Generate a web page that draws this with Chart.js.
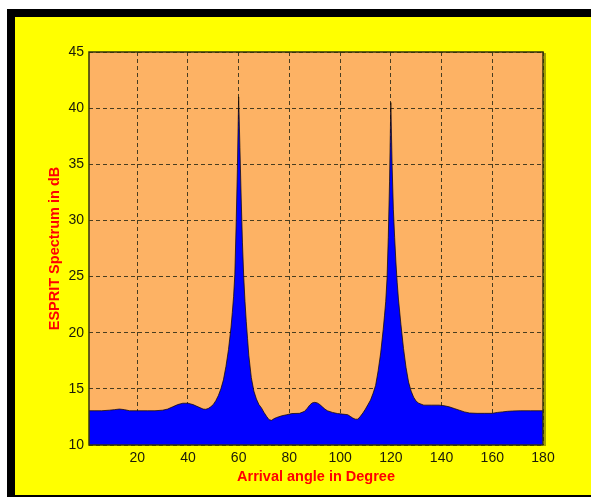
<!DOCTYPE html>
<html>
<head>
<meta charset="utf-8">
<script src="https://cdn.jsdelivr.net/npm/chart.js@4/dist/chart.umd.min.js"></script>
<style>
  html, body { margin: 0; background: #ffff00; overflow: hidden; }
  canvas { display: block; }
</style>
</head>
<body>
<canvas id="espritChart" width="591" height="497"></canvas>
<script>
// arrival angle (deg) and ESPRIT spectrum (dB)
const angles = [
    1, 3, 6, 9, 11, 13, 15, 17, 20, 24, 27, 30, 32, 34, 36, 38, 40, 42, 44, 46,
    47, 48, 49, 50, 51, 52, 53, 54, 55, 56, 57, 57.5, 58, 58.5, 59, 59.5, 60, 60.5, 61, 61.5,
    62, 62.5, 63, 63.5, 64, 65, 66, 67, 68, 69, 70, 71, 72, 73, 74, 75, 77, 79, 81, 84,
    86, 87, 88, 89, 90, 91, 92, 93, 94, 95, 97, 99, 101, 103, 104, 105, 106, 107, 108, 109,
    110, 111, 112, 113, 114, 115, 116, 117, 117.5, 118, 118.5, 119, 119.5, 120, 120.5, 121, 121.5, 122, 122.5, 123,
    124, 125, 126, 127, 128, 129, 130, 131, 133, 136, 139, 141, 143, 145, 147, 149, 151, 154, 157, 160,
    162, 164, 166, 168, 171, 175, 180
];
const spectrumDb = [
    13.05, 13.05, 13.05, 13.1, 13.15, 13.2, 13.15, 13.05, 13.05, 13.05, 13.05, 13.1, 13.2, 13.4, 13.6, 13.72, 13.72, 13.6, 13.4, 13.2,
    13.18, 13.25, 13.4, 13.6, 13.95, 14.4, 15.0, 15.8, 17.0, 18.5, 20.5, 21.8, 23.2, 25.2, 29.5, 34.5, 41.0, 36.5, 32.0, 28.0,
    25.0, 22.8, 21.0, 19.5, 18.0, 16.0, 14.8, 14.1, 13.6, 13.3, 12.9, 12.55, 12.25, 12.2, 12.35, 12.45, 12.6, 12.7, 12.8, 12.82,
    13.0, 13.25, 13.55, 13.75, 13.8, 13.75, 13.6, 13.4, 13.2, 13.05, 12.9, 12.8, 12.75, 12.7, 12.55, 12.4, 12.3, 12.3, 12.55, 12.85,
    13.2, 13.6, 14.0, 14.6, 15.3, 16.6, 18.2, 20.3, 21.5, 22.8, 24.8, 28.5, 33.5, 40.5, 35.0, 31.0, 28.5, 26.3, 24.5, 23.0,
    20.7, 18.6, 16.9, 15.6, 14.8, 14.25, 13.9, 13.72, 13.55, 13.55, 13.55, 13.5, 13.4, 13.25, 13.1, 12.95, 12.85, 12.82, 12.82, 12.82,
    12.9, 12.95, 13.0, 13.03, 13.05, 13.05, 13.05
];
const xTicks = [20, 40, 60, 80, 100, 120, 140, 160, 180];
const yTicks = [10, 15, 20, 25, 30, 35, 40, 45];

const tickFont = { family: "Arial, 'Liberation Sans', sans-serif", size: 14 };
const titleFont = { family: "Arial, 'Liberation Sans', sans-serif", size: 14.5, weight: 'bold' };

// yellow figure with black bands top, left and bottom; orange axes box
const framePlugin = {
    id: 'frame',
    beforeDraw(chart) {
        const ctx = chart.ctx;
        const a = chart.chartArea;
        const w = chart.width, h = chart.height;
        ctx.save();
        ctx.fillStyle = '#ffffff';
        ctx.fillRect(0, 0, w, h);
        ctx.fillStyle = '#ffff00';
        ctx.fillRect(7, 9, w - 7, h - 9);
        ctx.fillStyle = '#000000';
        ctx.fillRect(7, 9, w - 7, 8);   // top band
        ctx.fillRect(7, 9, 8, h - 9);   // left band
        ctx.fillRect(7, h - 2, w - 7, 2); // bottom line
        ctx.fillStyle = 'rgb(253, 178, 100)';
        ctx.fillRect(a.left, a.top, a.right - a.left, a.bottom - a.top);
        ctx.restore();
    },
    afterDraw(chart) {
        const ctx = chart.ctx;
        const a = chart.chartArea;
        ctx.save();
        // olive shadow on the right
        ctx.fillStyle = '#a3a300';
        ctx.fillRect(a.right + 1, a.top + 1, 2, a.bottom - a.top);
        ctx.strokeStyle = '#33330a';
        ctx.lineWidth = 1.5;
        ctx.strokeRect(a.left, a.top, a.right - a.left, a.bottom - a.top);
        // keep the right edge of the figure yellow
        ctx.fillStyle = '#ffff00';
        ctx.fillRect(chart.width - 12, 17, 12, chart.height - 19);
        ctx.restore();
    }
};

new Chart(document.getElementById('espritChart'), {
    type: 'line',
    data: {
        datasets: [{
            data: angles.map((a, i) => ({ x: a, y: spectrumDb[i] })),
            borderColor: 'rgba(20, 10, 0, 0.75)',
            borderWidth: 1,
            backgroundColor: '#0000ff',
            fill: 'start',
            pointRadius: 0,
            tension: 0
        }]
    },
    options: {
        responsive: false,
        animation: false,
        layout: { padding: { top: 52, right: 48, left: 0, bottom: 0 } },
        plugins: {
            legend: { display: false },
            tooltip: { enabled: false }
        },
        scales: {
            x: {
                type: 'linear',
                min: 1,
                max: 180,
                afterBuildTicks: scale => { scale.ticks = xTicks.map(v => ({ value: v })); },
                afterFit: scale => { scale.height = 52; },
                grid: {
                    color: 'rgba(40, 40, 20, 0.85)',
                    lineWidth: 1,
                    drawTicks: false
                },
                border: { display: false, dash: [4, 3] },
                ticks: {
                    color: '#1a1a0a',
                    font: tickFont,
                    padding: 5,
                    maxRotation: 0,
                    autoSkip: false
                },
                title: {
                    display: true,
                    text: 'Arrival angle in Degree',
                    color: '#ff0000',
                    font: titleFont,
                    padding: { top: 0, bottom: 11 }
                }
            },
            y: {
                min: 10,
                max: 45,
                afterBuildTicks: scale => { scale.ticks = yTicks.map(v => ({ value: v })); },
                afterFit: scale => { scale.width = 89; },
                grid: {
                    color: 'rgba(40, 40, 20, 0.85)',
                    lineWidth: 1,
                    drawTicks: false
                },
                border: { display: false, dash: [4, 3] },
                ticks: {
                    color: '#1a1a0a',
                    font: tickFont,
                    padding: 5
                },
                title: {
                    display: true,
                    text: 'ESPRIT Spectrum in dB',
                    color: '#ff0000',
                    font: titleFont,
                    padding: { top: 46, bottom: 0 }
                }
            }
        }
    },
    plugins: [framePlugin]
});
</script>
</body>
</html>
